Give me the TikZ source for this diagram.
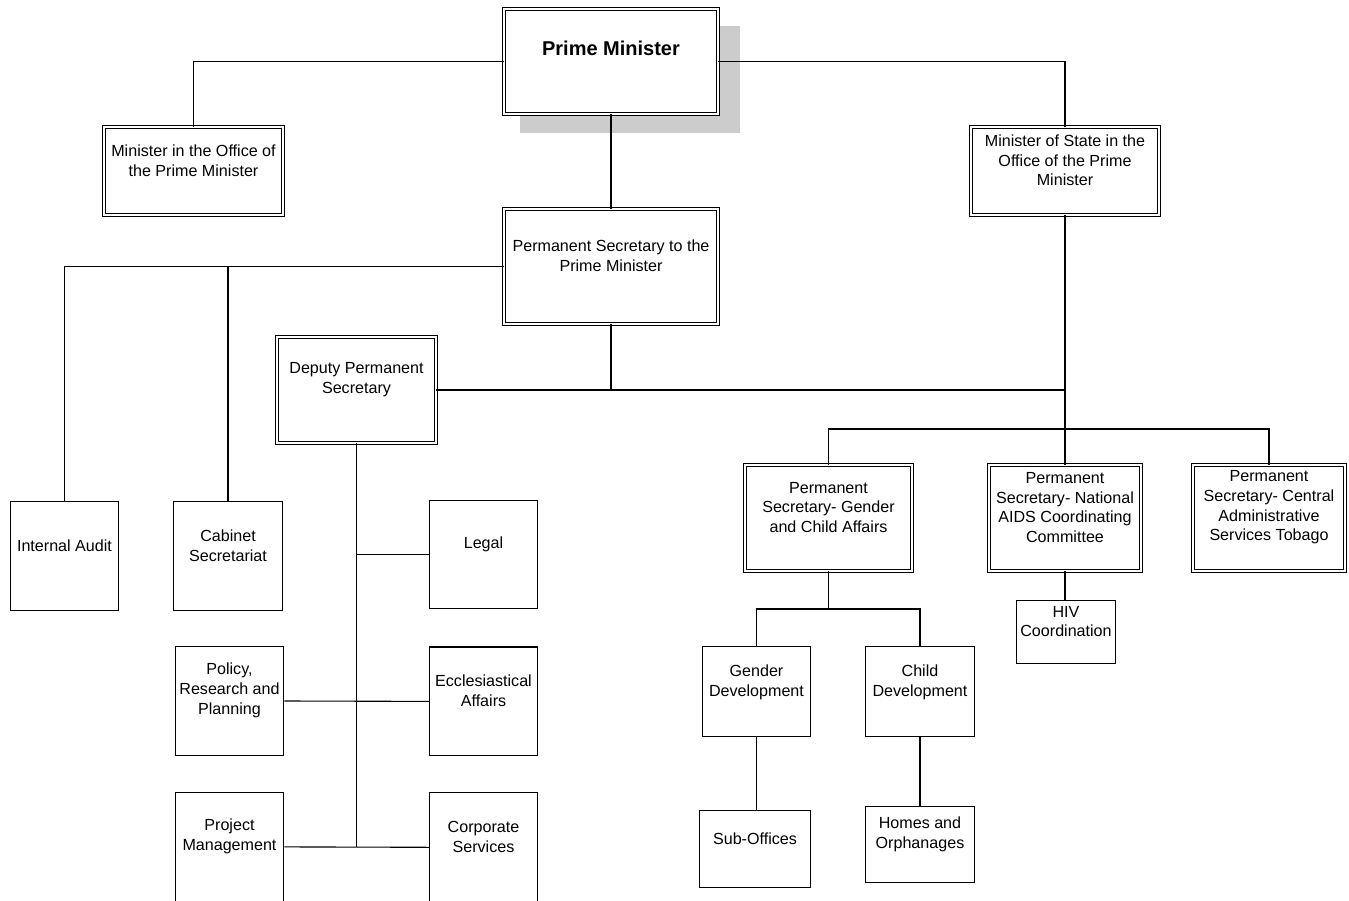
\documentclass[tikz,border=0pt]{standalone}
\usepackage{fontspec}
\setmainfont{Liberation Sans}
\usepackage{tikz}
\usetikzlibrary{positioning, shadows}
\definecolor{ink}{HTML}{000000}
\definecolor{shade}{HTML}{CCCCCC}
\tikzset{
  office/.style={
    rectangle, draw=ink, line width=1pt,
    double, double distance=2.4pt,
    fill=white, inner sep=0pt,
  },
  unit/.style={
    rectangle, draw=ink, line width=1.1pt,
    fill=white, inner sep=0pt,
    minimum width=108.4pt, minimum height=108.8pt,
  },
  boxtext/.style={align=center, yshift=10.5pt, font=\fontsize{16.1}{19.7}\selectfont},
  headtext/.style={align=center, yshift=13.5pt, font=\fontsize{20}{24}\selectfont\bfseries},
  link/.style={draw=ink, line width=1.1pt},
}

\begin{document}
\begin{tikzpicture}[x=1pt,y=-1pt]
  \path[use as bounding box, fill=white] (0,0) rectangle (1349,901);
  % top level
  \node[office, minimum width=213.6pt, minimum height=104.6pt,
    drop shadow={shadow xshift=18pt, shadow yshift=-17.5pt, shadow scale=1.03, fill=shade, opacity=1},
    label={[headtext]center:Prime Minister}] (pm) at (611,61.5) {};
  \node[office, minimum width=178.6pt, minimum height=87.6pt,
    label={[boxtext]center:{Minister in the Office of\\the Prime Minister}}] (mio) at (193.5,171) {};
  \node[office, minimum width=187.6pt, minimum height=87.6pt,
    label={[boxtext]center:{Minister of State in the\\Office of the Prime\\Minister}}] (mos) at (1065,171) {};
  \node[office, minimum width=213.6pt, minimum height=114.6pt,
    label={[boxtext]center:{Permanent Secretary to the\\Prime Minister}}] (psp) at (611,266.5) {};
  \node[office, minimum width=158.6pt, minimum height=105.6pt,
    label={[boxtext]center:{Deputy Permanent\\Secretary}}] (dps) at (356.5,390) {};
  % permanent secretaries
  \node[office, minimum width=166.6pt, minimum height=105.6pt,
    label={[boxtext]center:{Permanent\\Secretary- Gender\\and Child Affairs}}] (psg) at (828.5,518) {};
  \node[office, minimum width=151.6pt, minimum height=105.6pt,
    label={[boxtext]center:{Permanent\\Secretary- National\\AIDS Coordinating\\Committee}}] (psn) at (1065,518) {};
  \node[office, minimum width=151.6pt, minimum height=105.6pt,
    label={[boxtext]center:{Permanent\\Secretary- Central\\Administrative\\Services Tobago}}] (psc) at (1269,518) {};
  % units
  \node[unit, label={[boxtext]center:Internal Audit}] (ia) at (64.5,556) {};
  \node[unit, label={[boxtext]center:{Cabinet\\Secretariat}}] (cab) at (228,556) {};
  \node[unit, label={[boxtext]center:Legal}] (legal) at (483.5,554.5) {};
  \node[unit, below=37pt of legal, label={[boxtext]center:{Ecclesiastical\\Affairs}}] (ecc) {};
  \node[unit, below=36pt of ecc, label={[boxtext]center:{Corporate\\Services}}] (cor) {};
  \node[unit, label={[boxtext]center:{Policy,\\Research and\\Planning}}] (pol) at (229.5,701) {};
  \node[unit, below=36pt of pol, label={[boxtext]center:{Project\\Management}}] (prj) {};
  \node[unit, minimum height=90pt, label={[boxtext, yshift=-1pt]center:{Gender\\Development}}] (gd) at (756.5,691.5) {};
  \node[unit, minimum height=90pt, right=54pt of gd, label={[boxtext, yshift=-1pt]center:{Child\\Development}}] (cd) {};
  \node[unit, minimum width=111pt, minimum height=77pt, label={[boxtext]center:Sub-Offices}] (so) at (755,849) {};
  \node[unit, minimum height=76pt, below=69pt of cd, label={[boxtext]center:{Homes and\\Orphanages}}] (hom) {};
  \node[unit, minimum width=99.4pt, minimum height=63pt, label={[boxtext]center:{HIV\\Coordination}}] (hiv) at (1066,632) {};
  \coordinate (bus) at (1065,429);
  \coordinate (gbus) at (828.5,609);
  % links
  \draw[link] (pm.west) -| (mio.north);
  \draw[link] (pm.east) -| (mos.north);
  \draw[link] (pm.south) -- (psp.north);
  \draw[link] (psp.west) -| (ia.north);
  \draw[link] (cab.north) -- (cab.north |- psp.west);
  \draw[link] (psp.south) -- (psp.south |- dps.east);
  \draw[link] (dps.east) -- (dps.east -| mos.south);
  \draw[link] (mos.south) -- (psn.north);
  \draw[link] (psg.north) |- (bus) -| (psc.north);
  \draw[link] (dps.south) -- (dps.south |- prj.east);
  \draw[link] (legal.west) -- (legal.west -| dps.south);
  \draw[link] (pol.east) -- (ecc.west);
  \draw[link] (prj.east) -- (cor.west);
  \draw[link] (psg.south) -- (gbus);
  \draw[link] (gd.north) |- (gbus) -| (cd.north);
  \draw[link] (gd.south) -- (gd.south |- so.north);
  \draw[link] (cd.south) -- (hom.north);
  \draw[link] (psn.south) -- (psn.south |- hiv.north);
\end{tikzpicture}
\end{document}
